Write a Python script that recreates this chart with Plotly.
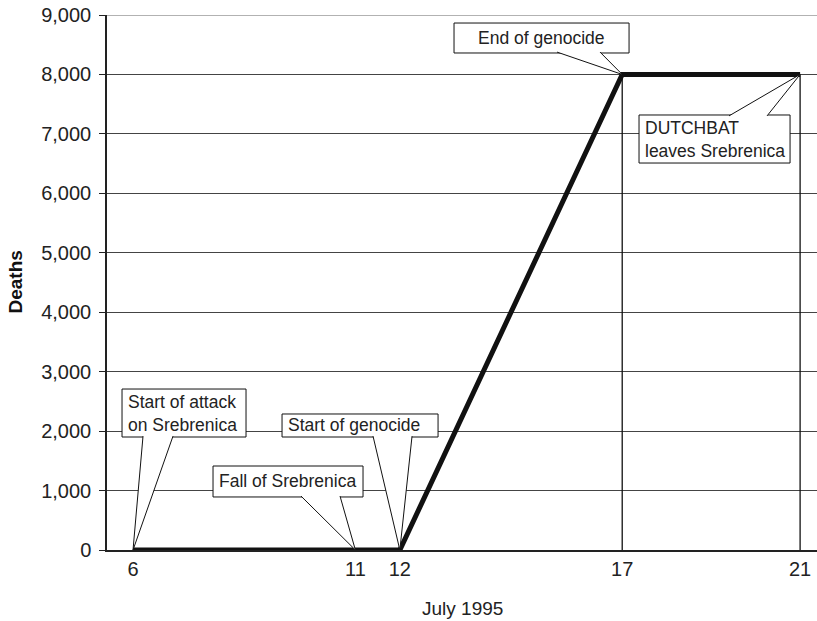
import plotly.graph_objects as go

# ---- data ----
tick_days = [6, 11, 12, 17, 21]
line_days = [6, 12, 17, 21]
line_deaths = [0, 0, 8000, 8000]
drop_days = [17, 21]
drop_deaths = [8000, 8000]
event_labels = ["Start of attack<br>on Srebrenica", "Fall of Srebrenica", "Start of genocide",
                "End of genocide", "DUTCHBAT<br>leaves Srebrenica"]
event_days = [6, 11, 12, 17, 21]
event_deaths = [0, 0, 0, 8000, 8000]
y_ticks = list(range(0, 9001, 1000))

# ---- callout box layout (data units) ----
box_x0 = [5.753, 7.799, 9.351, 13.218, 17.378]
box_x1 = [8.541, 11.172, 12.859, 17.154, 20.774]
box_y0 = [1901, 892, 1901, 8361, 6510]
box_y1 = [2708, 1413, 2288, 8865, 7318]
leg_a = [6.225, 9.778, 11.397, 15.534, 19.402]
leg_b = [6.899, 10.655, 12.274, 16.501, 20.257]
attach_top = [False, False, False, False, True]
text_center = [False, False, False, True, False]

FONT = "Liberation Sans, Arial, sans-serif"

fig = go.Figure()

for d, v in zip(drop_days, drop_deaths):
    fig.add_trace(go.Scatter(x=[d, d], y=[0, v], mode="lines",
                             line=dict(color="#111", width=1.3), hoverinfo="skip", showlegend=False))

fig.add_trace(go.Scatter(x=line_days, y=line_deaths, mode="lines",
                         line=dict(color="#111", width=5), showlegend=False))

shapes = [dict(type="line", xref="paper", yref="y", x0=0, x1=1, y0=y_ticks[-1], y1=y_ticks[-1],
               line=dict(color="#999", width=1.5), layer="below")]
annotations = []
for i, lab in enumerate(event_labels):
    shapes.append(dict(type="rect", xref="x", yref="y", x0=box_x0[i], x1=box_x1[i],
                       y0=box_y0[i], y1=box_y1[i], line=dict(color="#111", width=1),
                       fillcolor="white", layer="above"))
    if attach_top[i]:
        by = box_y1[i] - 15
    else:
        by = box_y0[i] + 15
    px, py = event_days[i], event_deaths[i]
    path = f"M {leg_a[i]},{by} L {px},{py} L {leg_b[i]},{by}"
    shapes.append(dict(type="path", xref="x", yref="y", path=path,
                       line=dict(color="#111", width=1), fillcolor="white", layer="above"))
    ycen = (box_y0[i] + box_y1[i]) / 2
    if text_center[i]:
        annotations.append(dict(x=(box_x0[i] + box_x1[i]) / 2, y=ycen, xref="x", yref="y",
                                text=lab, showarrow=False, xanchor="center", yanchor="middle",
                                font=dict(family=FONT, size=17.5, color="#222")))
    else:
        annotations.append(dict(x=box_x0[i], y=ycen, xref="x", yref="y", xshift=4,
                                text=lab, showarrow=False, xanchor="left", yanchor="middle",
                                align="left",
                                font=dict(family=FONT, size=17.5, color="#222")))

annotations.append(dict(x=0.5, y=0, xref="paper", yref="paper", yshift=-58,
                        text="July 1995", showarrow=False, xanchor="center", yanchor="middle",
                        font=dict(family=FONT, size=19, color="#222")))
annotations.append(dict(x=0, y=0.5, xref="paper", yref="paper", xshift=-92,
                        text="<b>Deaths</b>", showarrow=False, textangle=-90,
                        xanchor="center", yanchor="middle",
                        font=dict(family=FONT, size=19, color="#111")))

fig.update_layout(
    width=817, height=621,
    margin=dict(l=107, r=0, t=15, b=71),
    paper_bgcolor="white", plot_bgcolor="white",
    shapes=shapes, annotations=annotations,
    font=dict(family=FONT, size=19, color="#222"),
    xaxis=dict(range=[5.415, 21.38], tickvals=tick_days, ticktext=[str(t) for t in tick_days],
               showgrid=False, zeroline=False, showline=True, linecolor="#222", linewidth=1.5,
               ticks="", tickfont=dict(family=FONT, size=20, color="#222")),
    yaxis=dict(range=[0, 9000], tickvals=y_ticks, ticktext=[f"{t:,}" for t in y_ticks],
               showgrid=True, gridcolor="#444", gridwidth=1, zeroline=False,
               showline=True, linecolor="#222", linewidth=1.5,
               ticks="outside", ticklen=6, tickcolor="#222", tickwidth=1.2,
               ticklabelstandoff=4,
               tickfont=dict(family=FONT, size=20, color="#222")),
)

fig.write_html("out.html", config={"displayModeBar": False},
               post_script="document.body.style.margin='0';document.body.style.padding='0';")
